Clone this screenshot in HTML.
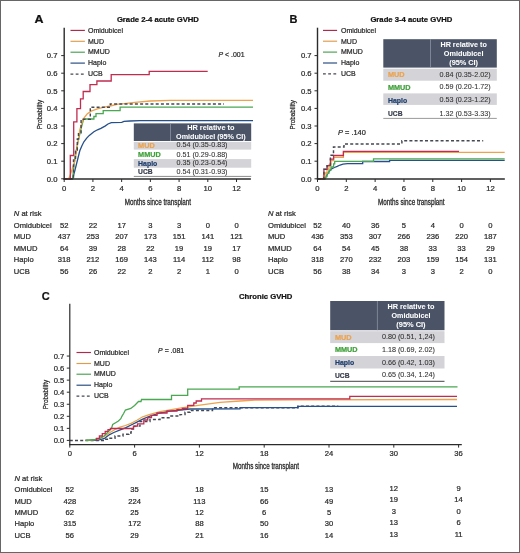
<!DOCTYPE html>
<html><head><meta charset="utf-8"><title>GVHD</title><style>html,body{margin:0;padding:0;background:#fff;}body{width:520px;height:553px;position:relative;overflow:hidden;}svg text{font-family:"Liberation Sans", sans-serif;}</style></head><body>
<svg width="520" height="553" viewBox="0 0 520 553" font-family='"Liberation Sans", sans-serif' style="position:absolute;left:0;top:0;filter:blur(0.35px)">
<rect x="0" y="0" width="520" height="553" fill="#ffffff"/>
<text x="34.4" y="23.4" font-size="11" text-anchor="start" font-weight="bold" fill="#111" textLength="9.0" lengthAdjust="spacingAndGlyphs" stroke="#111" stroke-width="0.22">A</text>
<text x="116.9" y="22" font-size="7.7" text-anchor="start" font-weight="bold" fill="#111" textLength="82" lengthAdjust="spacingAndGlyphs" stroke="#111" stroke-width="0.22">Grade 2-4 acute GVHD</text>
<path d="M64.2,178.8 L72.6,178.8 L75,170 L78,158 L79.8,150.8 L81.8,146 L83.9,141.8 L86.5,138.3 L89.3,135.4 L93.9,131.8 L97.5,129.8 L100.9,128.4 L105,126.1 L108,124 L111.3,122.7 L121.7,122.3 L124,121.3 L130,121 L140,120.6 L253,120.6" fill="none" stroke="#26508a" stroke-width="1.3" stroke-linejoin="miter"/>
<path d="M64.2,178.8 L72.6,178.8 L74.9,157.1 L77.6,143.6 L80.7,130 L83.6,119 L93.9,119 L93.9,116.5 L96,116.5 L96,113.6 L103.2,113.6 L103.2,110.6 L120.1,110.6 L120.1,107.1 L253,107.1" fill="none" stroke="#4aa852" stroke-width="1.3" stroke-linejoin="miter"/>
<path d="M64.2,178.8 L68.5,178.8 L69.9,176.2 L72.5,168 L74.9,160.8 L77.1,148 L79.8,130 L83,119.2 L87.1,114 L91.1,111.1 L97.4,108.8 L103.2,107.3 L110.1,106 L118.2,104.2 L124,103.7 L135,102.3 L150,101 L170,100.4 L253,100.4" fill="none" stroke="#eda24c" stroke-width="1.3" stroke-linejoin="miter"/>
<path d="M64.2,178.8H73.5V160H75.5V150H77.3V139H78.5V132.7H81.1V119.2H90.3V107.2H110.3V103.9H224V103.9" fill="none" stroke="#454852" stroke-width="1.45" stroke-linejoin="miter" stroke-dasharray="3,2.2"/>
<path d="M64.2,178.8H70.3V155.5H73.7V121.8H76.9V108.6H80.5V98.8H83.2V91.5H90V84.6H96.9V81H111.2V74.6H149.2V71.4H207.7V71.4" fill="none" stroke="#c02c50" stroke-width="1.3" stroke-linejoin="miter"/>
<line x1="64.2" y1="27.7" x2="64.2" y2="179.7" stroke="#2b2b2b" stroke-width="1.4"/>
<line x1="63.5" y1="179.0" x2="250.88" y2="179.0" stroke="#2b2b2b" stroke-width="1.4"/>
<line x1="61.2" y1="178.8" x2="64.2" y2="178.8" stroke="#2b2b2b" stroke-width="1"/>
<text x="57.5" y="181.5" font-size="7.7" text-anchor="end" fill="#2a2a2a" stroke="#2a2a2a" stroke-width="0.22">0.0</text>
<line x1="61.2" y1="161.20000000000002" x2="64.2" y2="161.20000000000002" stroke="#2b2b2b" stroke-width="1"/>
<text x="57.5" y="163.9" font-size="7.7" text-anchor="end" fill="#2a2a2a" stroke="#2a2a2a" stroke-width="0.22">0.1</text>
<line x1="61.2" y1="143.60000000000002" x2="64.2" y2="143.60000000000002" stroke="#2b2b2b" stroke-width="1"/>
<text x="57.5" y="146.3" font-size="7.7" text-anchor="end" fill="#2a2a2a" stroke="#2a2a2a" stroke-width="0.22">0.2</text>
<line x1="61.2" y1="126.00000000000001" x2="64.2" y2="126.00000000000001" stroke="#2b2b2b" stroke-width="1"/>
<text x="57.5" y="128.70000000000002" font-size="7.7" text-anchor="end" fill="#2a2a2a" stroke="#2a2a2a" stroke-width="0.22">0.3</text>
<line x1="61.2" y1="108.4" x2="64.2" y2="108.4" stroke="#2b2b2b" stroke-width="1"/>
<text x="57.5" y="111.10000000000001" font-size="7.7" text-anchor="end" fill="#2a2a2a" stroke="#2a2a2a" stroke-width="0.22">0.4</text>
<line x1="61.2" y1="90.80000000000001" x2="64.2" y2="90.80000000000001" stroke="#2b2b2b" stroke-width="1"/>
<text x="57.5" y="93.50000000000001" font-size="7.7" text-anchor="end" fill="#2a2a2a" stroke="#2a2a2a" stroke-width="0.22">0.5</text>
<line x1="61.2" y1="73.20000000000002" x2="64.2" y2="73.20000000000002" stroke="#2b2b2b" stroke-width="1"/>
<text x="57.5" y="75.90000000000002" font-size="7.7" text-anchor="end" fill="#2a2a2a" stroke="#2a2a2a" stroke-width="0.22">0.6</text>
<line x1="61.2" y1="55.60000000000002" x2="64.2" y2="55.60000000000002" stroke="#2b2b2b" stroke-width="1"/>
<text x="57.5" y="58.300000000000026" font-size="7.7" text-anchor="end" fill="#2a2a2a" stroke="#2a2a2a" stroke-width="0.22">0.7</text>
<line x1="64.2" y1="179.0" x2="64.2" y2="182.0" stroke="#2b2b2b" stroke-width="1"/>
<text x="64.2" y="190.7" font-size="7.7" text-anchor="middle" fill="#2a2a2a" stroke="#2a2a2a" stroke-width="0.22">0</text>
<line x1="92.92" y1="179.0" x2="92.92" y2="182.0" stroke="#2b2b2b" stroke-width="1"/>
<text x="92.92" y="190.7" font-size="7.7" text-anchor="middle" fill="#2a2a2a" stroke="#2a2a2a" stroke-width="0.22">2</text>
<line x1="121.64" y1="179.0" x2="121.64" y2="182.0" stroke="#2b2b2b" stroke-width="1"/>
<text x="121.64" y="190.7" font-size="7.7" text-anchor="middle" fill="#2a2a2a" stroke="#2a2a2a" stroke-width="0.22">4</text>
<line x1="150.36" y1="179.0" x2="150.36" y2="182.0" stroke="#2b2b2b" stroke-width="1"/>
<text x="150.36" y="190.7" font-size="7.7" text-anchor="middle" fill="#2a2a2a" stroke="#2a2a2a" stroke-width="0.22">6</text>
<line x1="179.07999999999998" y1="179.0" x2="179.07999999999998" y2="182.0" stroke="#2b2b2b" stroke-width="1"/>
<text x="179.07999999999998" y="190.7" font-size="7.7" text-anchor="middle" fill="#2a2a2a" stroke="#2a2a2a" stroke-width="0.22">8</text>
<line x1="207.8" y1="179.0" x2="207.8" y2="182.0" stroke="#2b2b2b" stroke-width="1"/>
<text x="207.8" y="190.7" font-size="7.7" text-anchor="middle" fill="#2a2a2a" stroke="#2a2a2a" stroke-width="0.22">10</text>
<line x1="236.51999999999998" y1="179.0" x2="236.51999999999998" y2="182.0" stroke="#2b2b2b" stroke-width="1"/>
<text x="236.51999999999998" y="190.7" font-size="7.7" text-anchor="middle" fill="#2a2a2a" stroke="#2a2a2a" stroke-width="0.22">12</text>
<line x1="70.5" y1="30.4" x2="84.9" y2="30.4" stroke="#b02a4c" stroke-width="1.15"/>
<text x="88" y="32.8" font-size="7" text-anchor="start" fill="#2a2a2a" stroke="#2a2a2a" stroke-width="0.22">Omidubicel</text>
<line x1="70.5" y1="41.3" x2="84.9" y2="41.3" stroke="#e09c48" stroke-width="1.15"/>
<text x="88" y="43.5" font-size="7" text-anchor="start" fill="#2a2a2a" stroke="#2a2a2a" stroke-width="0.22">MUD</text>
<line x1="70.5" y1="52.2" x2="84.9" y2="52.2" stroke="#48a04e" stroke-width="1.15"/>
<text x="88" y="54.3" font-size="7" text-anchor="start" fill="#2a2a2a" stroke="#2a2a2a" stroke-width="0.22">MMUD</text>
<line x1="70.5" y1="63.1" x2="84.9" y2="63.1" stroke="#24487e" stroke-width="1.15"/>
<text x="88" y="65.2" font-size="7" text-anchor="start" fill="#2a2a2a" stroke="#2a2a2a" stroke-width="0.22">Haplo</text>
<line x1="70.5" y1="74.1" x2="84.9" y2="74.1" stroke="#454852" stroke-width="1.2" stroke-dasharray="2.8,2.4"/>
<text x="88" y="76.3" font-size="7" text-anchor="start" fill="#2a2a2a" stroke="#2a2a2a" stroke-width="0.22">UCB</text>
<text x="41.9" y="114.6" font-size="7.8" text-anchor="middle" fill="#2a2a2a" textLength="29.5" lengthAdjust="spacingAndGlyphs" transform="rotate(-90 41.9 114.6)" stroke="#2a2a2a" stroke-width="0.25">Probability</text>
<text x="124.7" y="204.6" font-size="8.4" text-anchor="start" fill="#2a2a2a" textLength="66.4" lengthAdjust="spacingAndGlyphs" stroke="#2a2a2a" stroke-width="0.3">Months since transplant</text>
<text x="218.5" y="57.1" font-size="7" text-anchor="start" fill="#2a2a2a" textLength="26" lengthAdjust="spacingAndGlyphs" stroke="#2a2a2a" stroke-width="0.22"><tspan font-style="italic">P</tspan> &lt; .001</text>
<rect x="133.8" y="123.4" width="117.39999999999998" height="17.599999999999994" fill="#4a5466"/>
<line x1="170.5" y1="123.4" x2="170.5" y2="141" stroke="#8a93a3" stroke-width="0.8"/>
<text x="210.85" y="130.2" font-size="7" text-anchor="middle" font-weight="bold" fill="#ffffff" textLength="47.3" lengthAdjust="spacingAndGlyphs" stroke="#ffffff" stroke-width="0.05">HR relative to</text>
<text x="210.85" y="138.8" font-size="7" text-anchor="middle" font-weight="bold" fill="#ffffff" textLength="69.5" lengthAdjust="spacingAndGlyphs" stroke="#ffffff" stroke-width="0.05">Omidubicel (95% CI)</text>
<rect x="133.8" y="141.9" width="117.39999999999998" height="7.699999999999989" fill="#d3d3d8"/>
<text x="138.1" y="147.70000000000002" font-size="6.7" text-anchor="start" font-weight="bold" fill="#eda24c" textLength="16.6" lengthAdjust="spacingAndGlyphs" stroke="#eda24c" stroke-width="0.22">MUD</text>
<text x="176.5" y="147.4" font-size="7" text-anchor="start" fill="#333333" textLength="51" lengthAdjust="spacingAndGlyphs" stroke="#333333" stroke-width="0.08">0.54 (0.35-0.83)</text>
<text x="138.1" y="157.0" font-size="6.7" text-anchor="start" font-weight="bold" fill="#3fa13a" textLength="22.6" lengthAdjust="spacingAndGlyphs" stroke="#3fa13a" stroke-width="0.22">MMUD</text>
<text x="176.5" y="156.7" font-size="7" text-anchor="start" fill="#333333" textLength="51" lengthAdjust="spacingAndGlyphs" stroke="#333333" stroke-width="0.08">0.51 (0.29-0.88)</text>
<rect x="133.8" y="159.1" width="117.39999999999998" height="8.599999999999994" fill="#d3d3d8"/>
<text x="138.1" y="165.70000000000002" font-size="6.7" text-anchor="start" font-weight="bold" fill="#1e3f6e" textLength="19.2" lengthAdjust="spacingAndGlyphs" stroke="#1e3f6e" stroke-width="0.22">Haplo</text>
<text x="176.5" y="165.4" font-size="7" text-anchor="start" fill="#333333" textLength="51" lengthAdjust="spacingAndGlyphs" stroke="#333333" stroke-width="0.08">0.35 (0.23-0.54)</text>
<text x="138.1" y="174.3" font-size="6.7" text-anchor="start" font-weight="bold" fill="#3a3f4d" textLength="14.5" lengthAdjust="spacingAndGlyphs" stroke="#3a3f4d" stroke-width="0.22">UCB</text>
<text x="176.5" y="174.0" font-size="7" text-anchor="start" fill="#333333" textLength="51" lengthAdjust="spacingAndGlyphs" stroke="#333333" stroke-width="0.08">0.54 (0.31-0.93)</text>
<line x1="133.8" y1="176.4" x2="251.2" y2="176.4" stroke="#8a8a8a" stroke-width="1.0"/>
<text x="289.4" y="23.4" font-size="11" text-anchor="start" font-weight="bold" fill="#111" stroke="#111" stroke-width="0.22">B</text>
<text x="370.4" y="22" font-size="7.7" text-anchor="start" font-weight="bold" fill="#111" textLength="82" lengthAdjust="spacingAndGlyphs" stroke="#111" stroke-width="0.22">Grade 3-4 acute GVHD</text>
<path d="M317.5,178.8 L325,178.8 L326.5,176 L328.9,171.8 L331.5,168.9 L334.4,167.5 L337.2,166.4 L340.1,165 L343,164.2 L347.4,163.7 L362.7,163.5 L362.7,161.5 L389.6,161.5 L389.6,160.4 L504.7,160.4" fill="none" stroke="#26508a" stroke-width="1.3" stroke-linejoin="miter"/>
<path d="M317.5,178.8H325.5V176.5H327V173H329V170H331V167H333.6V163.9H334.7V161.4H373.5V158.8H504.7V158.8" fill="none" stroke="#4aa852" stroke-width="1.3" stroke-linejoin="miter"/>
<path d="M317.5,178.8H323.5V176H325V173H327V169H329V165H331V160.5H333.6V157.3H343.4V152.4H504.7V152.4" fill="none" stroke="#eda24c" stroke-width="1.3" stroke-linejoin="miter"/>
<path d="M317.5,178.8H323.9V169.3H327.1V165.7H330.4V159.2H333.6V155.5H343.4V151.4H459V151.4" fill="none" stroke="#c02c50" stroke-width="1.3" stroke-linejoin="miter"/>
<path d="M317.5,178.8H323.9V169.3H327.1V165.7H330.4V155.3H333.5V147.0H344V143.9H401.9V140.7H483.2V140.7" fill="none" stroke="#454852" stroke-width="1.45" stroke-linejoin="miter" stroke-dasharray="3,2.2"/>
<line x1="317.5" y1="27.7" x2="317.5" y2="179.7" stroke="#2b2b2b" stroke-width="1.4"/>
<line x1="316.8" y1="179.0" x2="504.83000000000004" y2="179.0" stroke="#2b2b2b" stroke-width="1.4"/>
<line x1="314.5" y1="178.8" x2="317.5" y2="178.8" stroke="#2b2b2b" stroke-width="1"/>
<text x="311.6" y="181.5" font-size="7.7" text-anchor="end" fill="#2a2a2a" stroke="#2a2a2a" stroke-width="0.22">0.0</text>
<line x1="314.5" y1="161.20000000000002" x2="317.5" y2="161.20000000000002" stroke="#2b2b2b" stroke-width="1"/>
<text x="311.6" y="163.9" font-size="7.7" text-anchor="end" fill="#2a2a2a" stroke="#2a2a2a" stroke-width="0.22">0.1</text>
<line x1="314.5" y1="143.60000000000002" x2="317.5" y2="143.60000000000002" stroke="#2b2b2b" stroke-width="1"/>
<text x="311.6" y="146.3" font-size="7.7" text-anchor="end" fill="#2a2a2a" stroke="#2a2a2a" stroke-width="0.22">0.2</text>
<line x1="314.5" y1="126.00000000000001" x2="317.5" y2="126.00000000000001" stroke="#2b2b2b" stroke-width="1"/>
<text x="311.6" y="128.70000000000002" font-size="7.7" text-anchor="end" fill="#2a2a2a" stroke="#2a2a2a" stroke-width="0.22">0.3</text>
<line x1="314.5" y1="108.4" x2="317.5" y2="108.4" stroke="#2b2b2b" stroke-width="1"/>
<text x="311.6" y="111.10000000000001" font-size="7.7" text-anchor="end" fill="#2a2a2a" stroke="#2a2a2a" stroke-width="0.22">0.4</text>
<line x1="314.5" y1="90.80000000000001" x2="317.5" y2="90.80000000000001" stroke="#2b2b2b" stroke-width="1"/>
<text x="311.6" y="93.50000000000001" font-size="7.7" text-anchor="end" fill="#2a2a2a" stroke="#2a2a2a" stroke-width="0.22">0.5</text>
<line x1="314.5" y1="73.20000000000002" x2="317.5" y2="73.20000000000002" stroke="#2b2b2b" stroke-width="1"/>
<text x="311.6" y="75.90000000000002" font-size="7.7" text-anchor="end" fill="#2a2a2a" stroke="#2a2a2a" stroke-width="0.22">0.6</text>
<line x1="314.5" y1="55.60000000000002" x2="317.5" y2="55.60000000000002" stroke="#2b2b2b" stroke-width="1"/>
<text x="311.6" y="58.300000000000026" font-size="7.7" text-anchor="end" fill="#2a2a2a" stroke="#2a2a2a" stroke-width="0.22">0.7</text>
<line x1="317.5" y1="179.0" x2="317.5" y2="182.0" stroke="#2b2b2b" stroke-width="1"/>
<text x="317.5" y="190.7" font-size="7.7" text-anchor="middle" fill="#2a2a2a" stroke="#2a2a2a" stroke-width="0.22">0</text>
<line x1="346.32" y1="179.0" x2="346.32" y2="182.0" stroke="#2b2b2b" stroke-width="1"/>
<text x="346.32" y="190.7" font-size="7.7" text-anchor="middle" fill="#2a2a2a" stroke="#2a2a2a" stroke-width="0.22">2</text>
<line x1="375.14" y1="179.0" x2="375.14" y2="182.0" stroke="#2b2b2b" stroke-width="1"/>
<text x="375.14" y="190.7" font-size="7.7" text-anchor="middle" fill="#2a2a2a" stroke="#2a2a2a" stroke-width="0.22">4</text>
<line x1="403.96000000000004" y1="179.0" x2="403.96000000000004" y2="182.0" stroke="#2b2b2b" stroke-width="1"/>
<text x="403.96000000000004" y="190.7" font-size="7.7" text-anchor="middle" fill="#2a2a2a" stroke="#2a2a2a" stroke-width="0.22">6</text>
<line x1="432.78" y1="179.0" x2="432.78" y2="182.0" stroke="#2b2b2b" stroke-width="1"/>
<text x="432.78" y="190.7" font-size="7.7" text-anchor="middle" fill="#2a2a2a" stroke="#2a2a2a" stroke-width="0.22">8</text>
<line x1="461.6" y1="179.0" x2="461.6" y2="182.0" stroke="#2b2b2b" stroke-width="1"/>
<text x="461.6" y="190.7" font-size="7.7" text-anchor="middle" fill="#2a2a2a" stroke="#2a2a2a" stroke-width="0.22">10</text>
<line x1="490.42" y1="179.0" x2="490.42" y2="182.0" stroke="#2b2b2b" stroke-width="1"/>
<text x="490.42" y="190.7" font-size="7.7" text-anchor="middle" fill="#2a2a2a" stroke="#2a2a2a" stroke-width="0.22">12</text>
<line x1="323" y1="30.4" x2="337.1" y2="30.4" stroke="#b02a4c" stroke-width="1.15"/>
<text x="341" y="32.8" font-size="7" text-anchor="start" fill="#2a2a2a" stroke="#2a2a2a" stroke-width="0.22">Omidubicel</text>
<line x1="323" y1="41.2" x2="337.1" y2="41.2" stroke="#e09c48" stroke-width="1.15"/>
<text x="341" y="43.5" font-size="7" text-anchor="start" fill="#2a2a2a" stroke="#2a2a2a" stroke-width="0.22">MUD</text>
<line x1="323" y1="52.1" x2="337.1" y2="52.1" stroke="#48a04e" stroke-width="1.15"/>
<text x="341" y="54.3" font-size="7" text-anchor="start" fill="#2a2a2a" stroke="#2a2a2a" stroke-width="0.22">MMUD</text>
<line x1="323" y1="63.0" x2="337.1" y2="63.0" stroke="#24487e" stroke-width="1.15"/>
<text x="341" y="65.2" font-size="7" text-anchor="start" fill="#2a2a2a" stroke="#2a2a2a" stroke-width="0.22">Haplo</text>
<line x1="323" y1="73.8" x2="337.1" y2="73.8" stroke="#454852" stroke-width="1.2" stroke-dasharray="2.8,2.4"/>
<text x="341" y="76.3" font-size="7" text-anchor="start" fill="#2a2a2a" stroke="#2a2a2a" stroke-width="0.22">UCB</text>
<text x="295.3" y="114.8" font-size="7.8" text-anchor="middle" fill="#2a2a2a" textLength="29.5" lengthAdjust="spacingAndGlyphs" transform="rotate(-90 295.3 114.8)" stroke="#2a2a2a" stroke-width="0.25">Probability</text>
<text x="378" y="204.8" font-size="8.4" text-anchor="start" fill="#2a2a2a" textLength="66.6" lengthAdjust="spacingAndGlyphs" stroke="#2a2a2a" stroke-width="0.3">Months since transplant</text>
<text x="338.1" y="134.5" font-size="7" text-anchor="start" fill="#2a2a2a" textLength="27.7" lengthAdjust="spacingAndGlyphs" stroke="#2a2a2a" stroke-width="0.22"><tspan font-style="italic">P</tspan> = .140</text>
<rect x="383.3" y="39.2" width="113.5" height="28.39999999999999" fill="#4a5466"/>
<line x1="430.5" y1="39.2" x2="430.5" y2="67.6" stroke="#8a93a3" stroke-width="0.8"/>
<text x="463.65" y="47.2" font-size="7" text-anchor="middle" font-weight="bold" fill="#ffffff" textLength="46.4" lengthAdjust="spacingAndGlyphs" stroke="#ffffff" stroke-width="0.05">HR relative to</text>
<text x="463.65" y="56.2" font-size="7" text-anchor="middle" font-weight="bold" fill="#ffffff" textLength="39.6" lengthAdjust="spacingAndGlyphs" stroke="#ffffff" stroke-width="0.05">Omidubicel</text>
<text x="463.65" y="64.6" font-size="7" text-anchor="middle" font-weight="bold" fill="#ffffff" textLength="28.8" lengthAdjust="spacingAndGlyphs" stroke="#ffffff" stroke-width="0.05">(95% CI)</text>
<rect x="383.3" y="68.7" width="113.5" height="12.0" fill="#d3d3d8"/>
<text x="388" y="76.8" font-size="6.7" text-anchor="start" font-weight="bold" fill="#eda24c" textLength="16.6" lengthAdjust="spacingAndGlyphs" stroke="#eda24c" stroke-width="0.22">MUD</text>
<text x="439.4" y="76.5" font-size="7" text-anchor="start" fill="#333333" textLength="51.2" lengthAdjust="spacingAndGlyphs" stroke="#333333" stroke-width="0.08">0.84 (0.35-2.02)</text>
<text x="388" y="89.5" font-size="6.7" text-anchor="start" font-weight="bold" fill="#3fa13a" textLength="22.6" lengthAdjust="spacingAndGlyphs" stroke="#3fa13a" stroke-width="0.22">MMUD</text>
<text x="439.4" y="89.2" font-size="7" text-anchor="start" fill="#333333" textLength="51.2" lengthAdjust="spacingAndGlyphs" stroke="#333333" stroke-width="0.08">0.59 (0.20-1.72)</text>
<rect x="383.3" y="93.4" width="113.5" height="11.5" fill="#d3d3d8"/>
<text x="388" y="102.6" font-size="6.7" text-anchor="start" font-weight="bold" fill="#1e3f6e" textLength="19.2" lengthAdjust="spacingAndGlyphs" stroke="#1e3f6e" stroke-width="0.22">Haplo</text>
<text x="439.4" y="102.3" font-size="7" text-anchor="start" fill="#333333" textLength="51.2" lengthAdjust="spacingAndGlyphs" stroke="#333333" stroke-width="0.08">0.53 (0.23-1.22)</text>
<text x="388" y="115.89999999999999" font-size="6.7" text-anchor="start" font-weight="bold" fill="#3a3f4d" textLength="14.5" lengthAdjust="spacingAndGlyphs" stroke="#3a3f4d" stroke-width="0.22">UCB</text>
<text x="439.4" y="115.6" font-size="7" text-anchor="start" fill="#333333" textLength="51.2" lengthAdjust="spacingAndGlyphs" stroke="#333333" stroke-width="0.08">1.32 (0.53-3.33)</text>
<line x1="383.3" y1="118.4" x2="496.8" y2="118.4" stroke="#9a9a9a" stroke-width="1.0"/>
<text x="41.7" y="300.2" font-size="11" text-anchor="start" font-weight="bold" fill="#111" stroke="#111" stroke-width="0.22">C</text>
<text x="239" y="299.4" font-size="7.7" text-anchor="start" font-weight="bold" fill="#111" textLength="53.4" lengthAdjust="spacingAndGlyphs" stroke="#111" stroke-width="0.22">Chronic GVHD</text>
<rect x="330.2" y="301" width="114.30000000000001" height="29.19999999999999" fill="#4a5466"/>
<line x1="377.4" y1="301" x2="377.4" y2="330.2" stroke="#8a93a3" stroke-width="0.8"/>
<text x="410.95" y="309" font-size="7" text-anchor="middle" font-weight="bold" fill="#ffffff" textLength="47" lengthAdjust="spacingAndGlyphs" stroke="#ffffff" stroke-width="0.05">HR relative to</text>
<text x="410.95" y="317.8" font-size="7" text-anchor="middle" font-weight="bold" fill="#ffffff" textLength="38.9" lengthAdjust="spacingAndGlyphs" stroke="#ffffff" stroke-width="0.05">Omidubicel</text>
<text x="410.95" y="326.7" font-size="7" text-anchor="middle" font-weight="bold" fill="#ffffff" textLength="29.2" lengthAdjust="spacingAndGlyphs" stroke="#ffffff" stroke-width="0.05">(95% CI)</text>
<rect x="330.2" y="331.2" width="114.30000000000001" height="11.900000000000034" fill="#d3d3d8"/>
<text x="335" y="339.6" font-size="6.7" text-anchor="start" font-weight="bold" fill="#eda24c" textLength="16.6" lengthAdjust="spacingAndGlyphs" stroke="#eda24c" stroke-width="0.22">MUD</text>
<text x="381.9" y="339.3" font-size="7" text-anchor="start" fill="#333333" textLength="53" lengthAdjust="spacingAndGlyphs" stroke="#333333" stroke-width="0.08">0.80 (0.51, 1,24)</text>
<text x="335" y="352.3" font-size="6.7" text-anchor="start" font-weight="bold" fill="#3fa13a" textLength="22.6" lengthAdjust="spacingAndGlyphs" stroke="#3fa13a" stroke-width="0.22">MMUD</text>
<text x="381.9" y="352.0" font-size="7" text-anchor="start" fill="#333333" textLength="53" lengthAdjust="spacingAndGlyphs" stroke="#333333" stroke-width="0.08">1.18 (0.69, 2.02)</text>
<rect x="330.2" y="356.0" width="114.30000000000001" height="12.5" fill="#d3d3d8"/>
<text x="335" y="364.90000000000003" font-size="6.7" text-anchor="start" font-weight="bold" fill="#1e3f6e" textLength="19.2" lengthAdjust="spacingAndGlyphs" stroke="#1e3f6e" stroke-width="0.22">Haplo</text>
<text x="381.9" y="364.6" font-size="7" text-anchor="start" fill="#333333" textLength="53" lengthAdjust="spacingAndGlyphs" stroke="#333333" stroke-width="0.08">0.66 (0.42, 1.03)</text>
<text x="335" y="377.5" font-size="6.7" text-anchor="start" font-weight="bold" fill="#3a3f4d" textLength="14.5" lengthAdjust="spacingAndGlyphs" stroke="#3a3f4d" stroke-width="0.22">UCB</text>
<text x="381.9" y="377.2" font-size="7" text-anchor="start" fill="#333333" textLength="53" lengthAdjust="spacingAndGlyphs" stroke="#333333" stroke-width="0.08">0.65 (0.34, 1.24)</text>
<line x1="330.2" y1="381.29999999999995" x2="444.5" y2="381.29999999999995" stroke="#444444" stroke-width="1.0"/>
<path d="M69.8,440.4H101V440.4H105V439.3H109.2V438.3H115V436H123V434.2H128.8V433H131.1V429H134.6V426.1H140V421.5H150V419.5H160V417.7H170V416H180V414.6H185V412.3H190V410.5H212.5V407.7H297.9V406.2H338.3V406.2" fill="none" stroke="#454852" stroke-width="1.45" stroke-linejoin="miter" stroke-dasharray="3,2.2"/>
<path d="M85.5,440.4 L97,440.4 L101,439.4 L104.6,438.3 L109.2,434.8 L113.8,432.5 L119.6,430.2 L125.4,427.9 L131.1,425 L136.9,422.1 L142.7,419.2 L150,416.2 L160,413 L170,411.2 L180,410 L190,409 L240,408.8 L240,407.7 L297.9,407.7 L297.9,406.3 L457,406.3" fill="none" stroke="#26508a" stroke-width="1.3" stroke-linejoin="miter"/>
<path d="M85.5,440.4 L88,440.4 L95,439.6 L100,438.3 L105,436 L110,432.5 L115,429.5 L120,427.2 L125.4,425.5 L131.1,423.3 L136.9,420.3 L142.7,416.8 L150,414.3 L160,411.6 L170,409.8 L180,408.1 L190,406.7 L200,405.2 L220,402.3 L240,401 L255,400.2 L300,399.9 L457,399.5" fill="none" stroke="#eda24c" stroke-width="1.3" stroke-linejoin="miter"/>
<path d="M85.5,440.4 L95,439.5 L100,438.3 L104,436 L108,432 L111.5,428.5 L112.7,424.4 L115.6,422.7 L118.4,421 L120.8,418.7 L121.9,416.3 L123.6,413.5 L125.4,410 L130.8,408.5 L130.8,408.5 L134.6,405.4 L138.5,401.5 L141,401.5 L141.5,399.5 L171.5,399.5 L171.5,395.4 L187.7,395.4 L187.7,389.2 L239.2,389.2 L239.2,386.9 L457.5,386.9" fill="none" stroke="#4aa852" stroke-width="1.3" stroke-linejoin="miter"/>
<path d="M96.5,440.4H96.5V438.3H99.4V436H102.3V433.6H105.2V431.3H108V429.6H110.4V428.5H133.4V426.1H137.5V423.8H143.8V420H147.7V417.7H151.5V415.4H157V413H167V411H177V409.7H182.3V408.5H187.7V405.4H193.8V403H196.2V401H201.5V398.8H349.8V396.4H457V396.4" fill="none" stroke="#c02c50" stroke-width="1.3" stroke-linejoin="miter"/>
<line x1="69.8" y1="303.7" x2="69.8" y2="445.20000000000005" stroke="#2b2b2b" stroke-width="1.2"/>
<line x1="69.2" y1="444.6" x2="461.8" y2="444.6" stroke="#2b2b2b" stroke-width="1.2"/>
<line x1="66.8" y1="440.4" x2="69.8" y2="440.4" stroke="#2b2b2b" stroke-width="1"/>
<text x="64.2" y="443.09999999999997" font-size="7.6" text-anchor="end" fill="#2a2a2a" stroke="#2a2a2a" stroke-width="0.22">0.0</text>
<line x1="66.8" y1="428.34999999999997" x2="69.8" y2="428.34999999999997" stroke="#2b2b2b" stroke-width="1"/>
<text x="64.2" y="431.04999999999995" font-size="7.6" text-anchor="end" fill="#2a2a2a" stroke="#2a2a2a" stroke-width="0.22">0.1</text>
<line x1="66.8" y1="416.29999999999995" x2="69.8" y2="416.29999999999995" stroke="#2b2b2b" stroke-width="1"/>
<text x="64.2" y="418.99999999999994" font-size="7.6" text-anchor="end" fill="#2a2a2a" stroke="#2a2a2a" stroke-width="0.22">0.2</text>
<line x1="66.8" y1="404.25" x2="69.8" y2="404.25" stroke="#2b2b2b" stroke-width="1"/>
<text x="64.2" y="406.95" font-size="7.6" text-anchor="end" fill="#2a2a2a" stroke="#2a2a2a" stroke-width="0.22">0.3</text>
<line x1="66.8" y1="392.2" x2="69.8" y2="392.2" stroke="#2b2b2b" stroke-width="1"/>
<text x="64.2" y="394.9" font-size="7.6" text-anchor="end" fill="#2a2a2a" stroke="#2a2a2a" stroke-width="0.22">0.4</text>
<line x1="66.8" y1="380.15" x2="69.8" y2="380.15" stroke="#2b2b2b" stroke-width="1"/>
<text x="64.2" y="382.84999999999997" font-size="7.6" text-anchor="end" fill="#2a2a2a" stroke="#2a2a2a" stroke-width="0.22">0.5</text>
<line x1="66.8" y1="368.09999999999997" x2="69.8" y2="368.09999999999997" stroke="#2b2b2b" stroke-width="1"/>
<text x="64.2" y="370.79999999999995" font-size="7.6" text-anchor="end" fill="#2a2a2a" stroke="#2a2a2a" stroke-width="0.22">0.6</text>
<line x1="66.8" y1="356.04999999999995" x2="69.8" y2="356.04999999999995" stroke="#2b2b2b" stroke-width="1"/>
<text x="64.2" y="358.74999999999994" font-size="7.6" text-anchor="end" fill="#2a2a2a" stroke="#2a2a2a" stroke-width="0.22">0.7</text>
<line x1="69.8" y1="444.6" x2="69.8" y2="447.6" stroke="#2b2b2b" stroke-width="1"/>
<text x="69.8" y="456.2" font-size="7.6" text-anchor="middle" fill="#2a2a2a" stroke="#2a2a2a" stroke-width="0.22">0</text>
<line x1="134.60000000000002" y1="444.6" x2="134.60000000000002" y2="447.6" stroke="#2b2b2b" stroke-width="1"/>
<text x="134.60000000000002" y="456.2" font-size="7.6" text-anchor="middle" fill="#2a2a2a" stroke="#2a2a2a" stroke-width="0.22">6</text>
<line x1="199.40000000000003" y1="444.6" x2="199.40000000000003" y2="447.6" stroke="#2b2b2b" stroke-width="1"/>
<text x="199.40000000000003" y="456.2" font-size="7.6" text-anchor="middle" fill="#2a2a2a" stroke="#2a2a2a" stroke-width="0.22">12</text>
<line x1="264.2" y1="444.6" x2="264.2" y2="447.6" stroke="#2b2b2b" stroke-width="1"/>
<text x="264.2" y="456.2" font-size="7.6" text-anchor="middle" fill="#2a2a2a" stroke="#2a2a2a" stroke-width="0.22">18</text>
<line x1="329.00000000000006" y1="444.6" x2="329.00000000000006" y2="447.6" stroke="#2b2b2b" stroke-width="1"/>
<text x="329.00000000000006" y="456.2" font-size="7.6" text-anchor="middle" fill="#2a2a2a" stroke="#2a2a2a" stroke-width="0.22">24</text>
<line x1="393.8" y1="444.6" x2="393.8" y2="447.6" stroke="#2b2b2b" stroke-width="1"/>
<text x="393.8" y="456.2" font-size="7.6" text-anchor="middle" fill="#2a2a2a" stroke="#2a2a2a" stroke-width="0.22">30</text>
<line x1="458.6" y1="444.6" x2="458.6" y2="447.6" stroke="#2b2b2b" stroke-width="1"/>
<text x="458.6" y="456.2" font-size="7.6" text-anchor="middle" fill="#2a2a2a" stroke="#2a2a2a" stroke-width="0.22">36</text>
<line x1="76.5" y1="352.5" x2="91" y2="352.5" stroke="#b02a4c" stroke-width="1.15"/>
<text x="94" y="354.8" font-size="7" text-anchor="start" fill="#2a2a2a" stroke="#2a2a2a" stroke-width="0.22">Omidubicel</text>
<line x1="76.5" y1="363.5" x2="91" y2="363.5" stroke="#e09c48" stroke-width="1.15"/>
<text x="94" y="365.5" font-size="7" text-anchor="start" fill="#2a2a2a" stroke="#2a2a2a" stroke-width="0.22">MUD</text>
<line x1="76.5" y1="374.2" x2="91" y2="374.2" stroke="#48a04e" stroke-width="1.15"/>
<text x="94" y="376.4" font-size="7" text-anchor="start" fill="#2a2a2a" stroke="#2a2a2a" stroke-width="0.22">MMUD</text>
<line x1="76.5" y1="385.2" x2="91" y2="385.2" stroke="#24487e" stroke-width="1.15"/>
<text x="94" y="387.2" font-size="7" text-anchor="start" fill="#2a2a2a" stroke="#2a2a2a" stroke-width="0.22">Haplo</text>
<line x1="76.5" y1="396.2" x2="91" y2="396.2" stroke="#454852" stroke-width="1.2" stroke-dasharray="2.8,2.4"/>
<text x="94" y="397.9" font-size="7" text-anchor="start" fill="#2a2a2a" stroke="#2a2a2a" stroke-width="0.22">UCB</text>
<text x="47.9" y="394.5" font-size="7.8" text-anchor="middle" fill="#2a2a2a" textLength="29.5" lengthAdjust="spacingAndGlyphs" transform="rotate(-90 47.9 394.5)" stroke="#2a2a2a" stroke-width="0.25">Probability</text>
<text x="232.7" y="468.9" font-size="8.4" text-anchor="start" fill="#2a2a2a" textLength="66.4" lengthAdjust="spacingAndGlyphs" stroke="#2a2a2a" stroke-width="0.3">Months since transplant</text>
<text x="158.1" y="352.7" font-size="7" text-anchor="start" fill="#2a2a2a" textLength="26" lengthAdjust="spacingAndGlyphs" stroke="#2a2a2a" stroke-width="0.22"><tspan font-style="italic">P</tspan> = .081</text>
<text x="13.8" y="216" font-size="7.6" text-anchor="start" fill="#2a2a2a" stroke="#2a2a2a" stroke-width="0.22"><tspan font-style="italic">N</tspan> at risk</text>
<text x="13.8" y="227.8" font-size="7.6" text-anchor="start" fill="#2a2a2a" stroke="#2a2a2a" stroke-width="0.22">Omidubicel</text>
<text x="64.2" y="227.8" font-size="7.6" text-anchor="middle" fill="#2a2a2a" stroke="#2a2a2a" stroke-width="0.22">52</text>
<text x="92.92" y="227.8" font-size="7.6" text-anchor="middle" fill="#2a2a2a" stroke="#2a2a2a" stroke-width="0.22">22</text>
<text x="121.64" y="227.8" font-size="7.6" text-anchor="middle" fill="#2a2a2a" stroke="#2a2a2a" stroke-width="0.22">17</text>
<text x="150.36" y="227.8" font-size="7.6" text-anchor="middle" fill="#2a2a2a" stroke="#2a2a2a" stroke-width="0.22">3</text>
<text x="179.08" y="227.8" font-size="7.6" text-anchor="middle" fill="#2a2a2a" stroke="#2a2a2a" stroke-width="0.22">3</text>
<text x="207.8" y="227.8" font-size="7.6" text-anchor="middle" fill="#2a2a2a" stroke="#2a2a2a" stroke-width="0.22">0</text>
<text x="236.52" y="227.8" font-size="7.6" text-anchor="middle" fill="#2a2a2a" stroke="#2a2a2a" stroke-width="0.22">0</text>
<text x="13.8" y="239.3" font-size="7.6" text-anchor="start" fill="#2a2a2a" stroke="#2a2a2a" stroke-width="0.22">MUD</text>
<text x="64.2" y="239.3" font-size="7.6" text-anchor="middle" fill="#2a2a2a" stroke="#2a2a2a" stroke-width="0.22">437</text>
<text x="92.92" y="239.3" font-size="7.6" text-anchor="middle" fill="#2a2a2a" stroke="#2a2a2a" stroke-width="0.22">253</text>
<text x="121.64" y="239.3" font-size="7.6" text-anchor="middle" fill="#2a2a2a" stroke="#2a2a2a" stroke-width="0.22">207</text>
<text x="150.36" y="239.3" font-size="7.6" text-anchor="middle" fill="#2a2a2a" stroke="#2a2a2a" stroke-width="0.22">173</text>
<text x="179.08" y="239.3" font-size="7.6" text-anchor="middle" fill="#2a2a2a" stroke="#2a2a2a" stroke-width="0.22">151</text>
<text x="207.8" y="239.3" font-size="7.6" text-anchor="middle" fill="#2a2a2a" stroke="#2a2a2a" stroke-width="0.22">141</text>
<text x="236.52" y="239.3" font-size="7.6" text-anchor="middle" fill="#2a2a2a" stroke="#2a2a2a" stroke-width="0.22">121</text>
<text x="13.8" y="250.7" font-size="7.6" text-anchor="start" fill="#2a2a2a" stroke="#2a2a2a" stroke-width="0.22">MMUD</text>
<text x="64.2" y="250.7" font-size="7.6" text-anchor="middle" fill="#2a2a2a" stroke="#2a2a2a" stroke-width="0.22">64</text>
<text x="92.92" y="250.7" font-size="7.6" text-anchor="middle" fill="#2a2a2a" stroke="#2a2a2a" stroke-width="0.22">39</text>
<text x="121.64" y="250.7" font-size="7.6" text-anchor="middle" fill="#2a2a2a" stroke="#2a2a2a" stroke-width="0.22">28</text>
<text x="150.36" y="250.7" font-size="7.6" text-anchor="middle" fill="#2a2a2a" stroke="#2a2a2a" stroke-width="0.22">22</text>
<text x="179.08" y="250.7" font-size="7.6" text-anchor="middle" fill="#2a2a2a" stroke="#2a2a2a" stroke-width="0.22">19</text>
<text x="207.8" y="250.7" font-size="7.6" text-anchor="middle" fill="#2a2a2a" stroke="#2a2a2a" stroke-width="0.22">19</text>
<text x="236.52" y="250.7" font-size="7.6" text-anchor="middle" fill="#2a2a2a" stroke="#2a2a2a" stroke-width="0.22">17</text>
<text x="13.8" y="262.2" font-size="7.6" text-anchor="start" fill="#2a2a2a" stroke="#2a2a2a" stroke-width="0.22">Haplo</text>
<text x="64.2" y="262.2" font-size="7.6" text-anchor="middle" fill="#2a2a2a" stroke="#2a2a2a" stroke-width="0.22">318</text>
<text x="92.92" y="262.2" font-size="7.6" text-anchor="middle" fill="#2a2a2a" stroke="#2a2a2a" stroke-width="0.22">212</text>
<text x="121.64" y="262.2" font-size="7.6" text-anchor="middle" fill="#2a2a2a" stroke="#2a2a2a" stroke-width="0.22">169</text>
<text x="150.36" y="262.2" font-size="7.6" text-anchor="middle" fill="#2a2a2a" stroke="#2a2a2a" stroke-width="0.22">143</text>
<text x="179.08" y="262.2" font-size="7.6" text-anchor="middle" fill="#2a2a2a" stroke="#2a2a2a" stroke-width="0.22">114</text>
<text x="207.8" y="262.2" font-size="7.6" text-anchor="middle" fill="#2a2a2a" stroke="#2a2a2a" stroke-width="0.22">112</text>
<text x="236.52" y="262.2" font-size="7.6" text-anchor="middle" fill="#2a2a2a" stroke="#2a2a2a" stroke-width="0.22">98</text>
<text x="13.8" y="273.6" font-size="7.6" text-anchor="start" fill="#2a2a2a" stroke="#2a2a2a" stroke-width="0.22">UCB</text>
<text x="64.2" y="273.6" font-size="7.6" text-anchor="middle" fill="#2a2a2a" stroke="#2a2a2a" stroke-width="0.22">56</text>
<text x="92.92" y="273.6" font-size="7.6" text-anchor="middle" fill="#2a2a2a" stroke="#2a2a2a" stroke-width="0.22">26</text>
<text x="121.64" y="273.6" font-size="7.6" text-anchor="middle" fill="#2a2a2a" stroke="#2a2a2a" stroke-width="0.22">22</text>
<text x="150.36" y="273.6" font-size="7.6" text-anchor="middle" fill="#2a2a2a" stroke="#2a2a2a" stroke-width="0.22">2</text>
<text x="179.08" y="273.6" font-size="7.6" text-anchor="middle" fill="#2a2a2a" stroke="#2a2a2a" stroke-width="0.22">2</text>
<text x="207.8" y="273.6" font-size="7.6" text-anchor="middle" fill="#2a2a2a" stroke="#2a2a2a" stroke-width="0.22">1</text>
<text x="236.52" y="273.6" font-size="7.6" text-anchor="middle" fill="#2a2a2a" stroke="#2a2a2a" stroke-width="0.22">0</text>
<text x="268" y="216" font-size="7.6" text-anchor="start" fill="#2a2a2a" stroke="#2a2a2a" stroke-width="0.22"><tspan font-style="italic">N</tspan> at risk</text>
<text x="268" y="227.8" font-size="7.6" text-anchor="start" fill="#2a2a2a" stroke="#2a2a2a" stroke-width="0.22">Omidubicel</text>
<text x="317.5" y="227.8" font-size="7.6" text-anchor="middle" fill="#2a2a2a" stroke="#2a2a2a" stroke-width="0.22">52</text>
<text x="346.32" y="227.8" font-size="7.6" text-anchor="middle" fill="#2a2a2a" stroke="#2a2a2a" stroke-width="0.22">40</text>
<text x="375.14" y="227.8" font-size="7.6" text-anchor="middle" fill="#2a2a2a" stroke="#2a2a2a" stroke-width="0.22">36</text>
<text x="403.96" y="227.8" font-size="7.6" text-anchor="middle" fill="#2a2a2a" stroke="#2a2a2a" stroke-width="0.22">5</text>
<text x="432.78" y="227.8" font-size="7.6" text-anchor="middle" fill="#2a2a2a" stroke="#2a2a2a" stroke-width="0.22">4</text>
<text x="461.6" y="227.8" font-size="7.6" text-anchor="middle" fill="#2a2a2a" stroke="#2a2a2a" stroke-width="0.22">0</text>
<text x="490.42" y="227.8" font-size="7.6" text-anchor="middle" fill="#2a2a2a" stroke="#2a2a2a" stroke-width="0.22">0</text>
<text x="268" y="239.3" font-size="7.6" text-anchor="start" fill="#2a2a2a" stroke="#2a2a2a" stroke-width="0.22">MUD</text>
<text x="317.5" y="239.3" font-size="7.6" text-anchor="middle" fill="#2a2a2a" stroke="#2a2a2a" stroke-width="0.22">436</text>
<text x="346.32" y="239.3" font-size="7.6" text-anchor="middle" fill="#2a2a2a" stroke="#2a2a2a" stroke-width="0.22">353</text>
<text x="375.14" y="239.3" font-size="7.6" text-anchor="middle" fill="#2a2a2a" stroke="#2a2a2a" stroke-width="0.22">307</text>
<text x="403.96" y="239.3" font-size="7.6" text-anchor="middle" fill="#2a2a2a" stroke="#2a2a2a" stroke-width="0.22">266</text>
<text x="432.78" y="239.3" font-size="7.6" text-anchor="middle" fill="#2a2a2a" stroke="#2a2a2a" stroke-width="0.22">236</text>
<text x="461.6" y="239.3" font-size="7.6" text-anchor="middle" fill="#2a2a2a" stroke="#2a2a2a" stroke-width="0.22">220</text>
<text x="490.42" y="239.3" font-size="7.6" text-anchor="middle" fill="#2a2a2a" stroke="#2a2a2a" stroke-width="0.22">187</text>
<text x="268" y="250.7" font-size="7.6" text-anchor="start" fill="#2a2a2a" stroke="#2a2a2a" stroke-width="0.22">MMUD</text>
<text x="317.5" y="250.7" font-size="7.6" text-anchor="middle" fill="#2a2a2a" stroke="#2a2a2a" stroke-width="0.22">64</text>
<text x="346.32" y="250.7" font-size="7.6" text-anchor="middle" fill="#2a2a2a" stroke="#2a2a2a" stroke-width="0.22">54</text>
<text x="375.14" y="250.7" font-size="7.6" text-anchor="middle" fill="#2a2a2a" stroke="#2a2a2a" stroke-width="0.22">45</text>
<text x="403.96" y="250.7" font-size="7.6" text-anchor="middle" fill="#2a2a2a" stroke="#2a2a2a" stroke-width="0.22">38</text>
<text x="432.78" y="250.7" font-size="7.6" text-anchor="middle" fill="#2a2a2a" stroke="#2a2a2a" stroke-width="0.22">33</text>
<text x="461.6" y="250.7" font-size="7.6" text-anchor="middle" fill="#2a2a2a" stroke="#2a2a2a" stroke-width="0.22">33</text>
<text x="490.42" y="250.7" font-size="7.6" text-anchor="middle" fill="#2a2a2a" stroke="#2a2a2a" stroke-width="0.22">29</text>
<text x="268" y="262.2" font-size="7.6" text-anchor="start" fill="#2a2a2a" stroke="#2a2a2a" stroke-width="0.22">Haplo</text>
<text x="317.5" y="262.2" font-size="7.6" text-anchor="middle" fill="#2a2a2a" stroke="#2a2a2a" stroke-width="0.22">318</text>
<text x="346.32" y="262.2" font-size="7.6" text-anchor="middle" fill="#2a2a2a" stroke="#2a2a2a" stroke-width="0.22">270</text>
<text x="375.14" y="262.2" font-size="7.6" text-anchor="middle" fill="#2a2a2a" stroke="#2a2a2a" stroke-width="0.22">232</text>
<text x="403.96" y="262.2" font-size="7.6" text-anchor="middle" fill="#2a2a2a" stroke="#2a2a2a" stroke-width="0.22">203</text>
<text x="432.78" y="262.2" font-size="7.6" text-anchor="middle" fill="#2a2a2a" stroke="#2a2a2a" stroke-width="0.22">159</text>
<text x="461.6" y="262.2" font-size="7.6" text-anchor="middle" fill="#2a2a2a" stroke="#2a2a2a" stroke-width="0.22">154</text>
<text x="490.42" y="262.2" font-size="7.6" text-anchor="middle" fill="#2a2a2a" stroke="#2a2a2a" stroke-width="0.22">131</text>
<text x="268" y="273.6" font-size="7.6" text-anchor="start" fill="#2a2a2a" stroke="#2a2a2a" stroke-width="0.22">UCB</text>
<text x="317.5" y="273.6" font-size="7.6" text-anchor="middle" fill="#2a2a2a" stroke="#2a2a2a" stroke-width="0.22">56</text>
<text x="346.32" y="273.6" font-size="7.6" text-anchor="middle" fill="#2a2a2a" stroke="#2a2a2a" stroke-width="0.22">38</text>
<text x="375.14" y="273.6" font-size="7.6" text-anchor="middle" fill="#2a2a2a" stroke="#2a2a2a" stroke-width="0.22">34</text>
<text x="403.96" y="273.6" font-size="7.6" text-anchor="middle" fill="#2a2a2a" stroke="#2a2a2a" stroke-width="0.22">3</text>
<text x="432.78" y="273.6" font-size="7.6" text-anchor="middle" fill="#2a2a2a" stroke="#2a2a2a" stroke-width="0.22">3</text>
<text x="461.6" y="273.6" font-size="7.6" text-anchor="middle" fill="#2a2a2a" stroke="#2a2a2a" stroke-width="0.22">2</text>
<text x="490.42" y="273.6" font-size="7.6" text-anchor="middle" fill="#2a2a2a" stroke="#2a2a2a" stroke-width="0.22">0</text>
<text x="14.5" y="480.8" font-size="7.6" text-anchor="start" fill="#2a2a2a" stroke="#2a2a2a" stroke-width="0.22"><tspan font-style="italic">N</tspan> at risk</text>
<text x="14.5" y="492.2" font-size="7.6" text-anchor="start" fill="#2a2a2a" stroke="#2a2a2a" stroke-width="0.22">Omidubicel</text>
<text x="69.8" y="492.2" font-size="7.6" text-anchor="middle" fill="#2a2a2a" stroke="#2a2a2a" stroke-width="0.22">52</text>
<text x="134.6" y="492.2" font-size="7.6" text-anchor="middle" fill="#2a2a2a" stroke="#2a2a2a" stroke-width="0.22">35</text>
<text x="199.4" y="492.2" font-size="7.6" text-anchor="middle" fill="#2a2a2a" stroke="#2a2a2a" stroke-width="0.22">18</text>
<text x="264.2" y="492.2" font-size="7.6" text-anchor="middle" fill="#2a2a2a" stroke="#2a2a2a" stroke-width="0.22">15</text>
<text x="329.0" y="492.2" font-size="7.6" text-anchor="middle" fill="#2a2a2a" stroke="#2a2a2a" stroke-width="0.22">13</text>
<text x="393.8" y="490.9" font-size="7.6" text-anchor="middle" fill="#2a2a2a" stroke="#2a2a2a" stroke-width="0.22">12</text>
<text x="458.6" y="490.9" font-size="7.6" text-anchor="middle" fill="#2a2a2a" stroke="#2a2a2a" stroke-width="0.22">9</text>
<text x="14.5" y="503.5" font-size="7.6" text-anchor="start" fill="#2a2a2a" stroke="#2a2a2a" stroke-width="0.22">MUD</text>
<text x="69.8" y="503.5" font-size="7.6" text-anchor="middle" fill="#2a2a2a" stroke="#2a2a2a" stroke-width="0.22">428</text>
<text x="134.6" y="503.5" font-size="7.6" text-anchor="middle" fill="#2a2a2a" stroke="#2a2a2a" stroke-width="0.22">224</text>
<text x="199.4" y="503.5" font-size="7.6" text-anchor="middle" fill="#2a2a2a" stroke="#2a2a2a" stroke-width="0.22">113</text>
<text x="264.2" y="503.5" font-size="7.6" text-anchor="middle" fill="#2a2a2a" stroke="#2a2a2a" stroke-width="0.22">66</text>
<text x="329.0" y="503.5" font-size="7.6" text-anchor="middle" fill="#2a2a2a" stroke="#2a2a2a" stroke-width="0.22">49</text>
<text x="393.8" y="502.2" font-size="7.6" text-anchor="middle" fill="#2a2a2a" stroke="#2a2a2a" stroke-width="0.22">19</text>
<text x="458.6" y="502.2" font-size="7.6" text-anchor="middle" fill="#2a2a2a" stroke="#2a2a2a" stroke-width="0.22">14</text>
<text x="14.5" y="514.9" font-size="7.6" text-anchor="start" fill="#2a2a2a" stroke="#2a2a2a" stroke-width="0.22">MMUD</text>
<text x="69.8" y="514.9" font-size="7.6" text-anchor="middle" fill="#2a2a2a" stroke="#2a2a2a" stroke-width="0.22">62</text>
<text x="134.6" y="514.9" font-size="7.6" text-anchor="middle" fill="#2a2a2a" stroke="#2a2a2a" stroke-width="0.22">25</text>
<text x="199.4" y="514.9" font-size="7.6" text-anchor="middle" fill="#2a2a2a" stroke="#2a2a2a" stroke-width="0.22">12</text>
<text x="264.2" y="514.9" font-size="7.6" text-anchor="middle" fill="#2a2a2a" stroke="#2a2a2a" stroke-width="0.22">6</text>
<text x="329.0" y="514.9" font-size="7.6" text-anchor="middle" fill="#2a2a2a" stroke="#2a2a2a" stroke-width="0.22">5</text>
<text x="393.8" y="513.6" font-size="7.6" text-anchor="middle" fill="#2a2a2a" stroke="#2a2a2a" stroke-width="0.22">3</text>
<text x="458.6" y="513.6" font-size="7.6" text-anchor="middle" fill="#2a2a2a" stroke="#2a2a2a" stroke-width="0.22">0</text>
<text x="14.5" y="526.4" font-size="7.6" text-anchor="start" fill="#2a2a2a" stroke="#2a2a2a" stroke-width="0.22">Haplo</text>
<text x="69.8" y="526.4" font-size="7.6" text-anchor="middle" fill="#2a2a2a" stroke="#2a2a2a" stroke-width="0.22">315</text>
<text x="134.6" y="526.4" font-size="7.6" text-anchor="middle" fill="#2a2a2a" stroke="#2a2a2a" stroke-width="0.22">172</text>
<text x="199.4" y="526.4" font-size="7.6" text-anchor="middle" fill="#2a2a2a" stroke="#2a2a2a" stroke-width="0.22">88</text>
<text x="264.2" y="526.4" font-size="7.6" text-anchor="middle" fill="#2a2a2a" stroke="#2a2a2a" stroke-width="0.22">50</text>
<text x="329.0" y="526.4" font-size="7.6" text-anchor="middle" fill="#2a2a2a" stroke="#2a2a2a" stroke-width="0.22">30</text>
<text x="393.8" y="525.1" font-size="7.6" text-anchor="middle" fill="#2a2a2a" stroke="#2a2a2a" stroke-width="0.22">13</text>
<text x="458.6" y="525.1" font-size="7.6" text-anchor="middle" fill="#2a2a2a" stroke="#2a2a2a" stroke-width="0.22">6</text>
<text x="14.5" y="537.8" font-size="7.6" text-anchor="start" fill="#2a2a2a" stroke="#2a2a2a" stroke-width="0.22">UCB</text>
<text x="69.8" y="537.8" font-size="7.6" text-anchor="middle" fill="#2a2a2a" stroke="#2a2a2a" stroke-width="0.22">56</text>
<text x="134.6" y="537.8" font-size="7.6" text-anchor="middle" fill="#2a2a2a" stroke="#2a2a2a" stroke-width="0.22">29</text>
<text x="199.4" y="537.8" font-size="7.6" text-anchor="middle" fill="#2a2a2a" stroke="#2a2a2a" stroke-width="0.22">21</text>
<text x="264.2" y="537.8" font-size="7.6" text-anchor="middle" fill="#2a2a2a" stroke="#2a2a2a" stroke-width="0.22">16</text>
<text x="329.0" y="537.8" font-size="7.6" text-anchor="middle" fill="#2a2a2a" stroke="#2a2a2a" stroke-width="0.22">14</text>
<text x="393.8" y="536.5" font-size="7.6" text-anchor="middle" fill="#2a2a2a" stroke="#2a2a2a" stroke-width="0.22">13</text>
<text x="458.6" y="536.5" font-size="7.6" text-anchor="middle" fill="#2a2a2a" stroke="#2a2a2a" stroke-width="0.22">11</text>
<rect x="0.5" y="0.5" width="519" height="552" fill="none" stroke="#666666" stroke-width="1"/>
</svg>
</body></html>
